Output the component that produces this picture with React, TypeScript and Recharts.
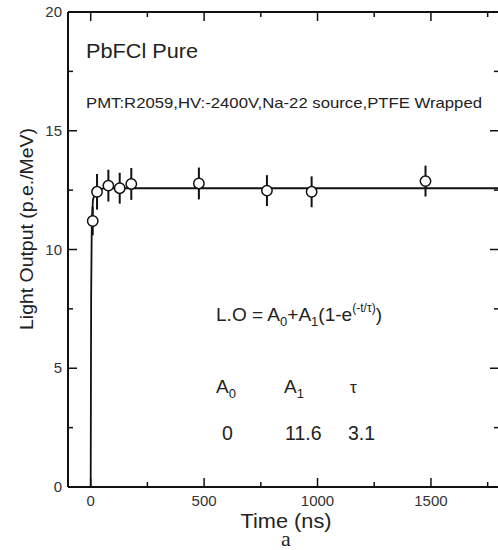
import React from 'react';
import { ComposedChart, Scatter, XAxis, YAxis, ErrorBar } from 'recharts';

const times = [9, 28, 78, 128, 179, 477, 777, 974, 1476];
const lightOutput = [11.2, 12.43, 12.69, 12.58, 12.76, 12.78, 12.48, 12.43, 12.88];
const errors = [0.6, 0.75, 0.67, 0.65, 0.67, 0.67, 0.65, 0.65, 0.65];

const fitTimes = [0, 2, 5, 10, 25, 60, 1800];
const fitValues = [0, 8, 11.2, 12.1, 12.5, 12.58, 12.58];

const xTicks = [0, 250, 500, 750, 1000, 1250, 1500, 1750];
const xLabelTicks = [0, 500, 1000, 1500];
const yTicks = [0, 2.5, 5, 7.5, 10, 12.5, 15, 17.5, 20];
const yLabelTicks = [0, 5, 10, 15, 20];

const measured = times.map((t, i) => ({ t, v: lightOutput[i], err: errors[i] }));
const fit = fitTimes.map((t, i) => ({ t, v: fitValues[i] }));

const FONT = '"Liberation Sans", Arial, Helvetica, sans-serif';
const TXT = '#222';

const BottomTick = (p: any) => {
  const v = p.payload.value;
  const major = xLabelTicks.includes(v);
  return (
    <g>
      <line x1={p.x} x2={p.x} y1={p.y} y2={p.y - (major ? 9 : 5)} stroke="#111" strokeWidth={1.5} />
      {major && (
        <text x={p.x} y={p.y + 19} textAnchor="middle" fontSize={15} fontFamily={FONT} fill="#333">
          {v}
        </text>
      )}
    </g>
  );
};

const TopTick = (p: any) => {
  const v = p.payload.value;
  const major = xLabelTicks.includes(v);
  return <line x1={p.x} x2={p.x} y1={p.y} y2={p.y + (major ? 9 : 5)} stroke="#111" strokeWidth={1.5} />;
};

const LeftTick = (p: any) => {
  const v = p.payload.value;
  const major = yLabelTicks.includes(v);
  return (
    <g>
      <line x1={p.x} x2={p.x + (major ? 9 : 5)} y1={p.y} y2={p.y} stroke="#111" strokeWidth={1.5} />
      {major && (
        <text x={p.x - 6} y={p.y + 5} textAnchor="end" fontSize={15} fontFamily={FONT} fill="#333">
          {v}
        </text>
      )}
    </g>
  );
};

const RightTick = (p: any) => {
  const v = p.payload.value;
  const major = yLabelTicks.includes(v);
  return <line x1={p.x} x2={p.x - (major ? 9 : 5)} y1={p.y} y2={p.y} stroke="#111" strokeWidth={1.5} />;
};

const OpenCircle = (p: any) => (
  <circle cx={p.cx} cy={p.cy} r={5.2} fill="#fff" stroke="#111" strokeWidth={1.5} />
);
const NoDot = () => <g />;

export default function App() {
  return (
    <div style={{ position: 'absolute', left: 0, top: 0, width: 498, height: 550, overflow: 'hidden', background: '#fff' }}>
      <ComposedChart
        width={510}
        height={550}
        margin={{ top: 11, right: 10, bottom: 62, left: 0 }}
        style={{ overflow: 'visible' }}
      >
        <XAxis
          xAxisId="b"
          dataKey="t"
          type="number"
          domain={[-100, 1800]}
          ticks={xTicks}
          allowDataOverflow
          height={1}
          tickSize={0}
          tickMargin={0}
          axisLine={{ stroke: '#111', strokeWidth: 2 }}
          tickLine={false}
          tick={<BottomTick />}
          interval={0}
        />
        <XAxis
          xAxisId="t"
          orientation="top"
          type="number"
          dataKey="t"
          domain={[-100, 1800]}
          ticks={xTicks}
          allowDataOverflow
          height={1}
          tickSize={0}
          tickMargin={0}
          axisLine={{ stroke: '#111', strokeWidth: 2 }}
          tickLine={false}
          tick={<TopTick />}
          interval={0}
        />
        <YAxis
          yAxisId="l"
          type="number"
          domain={[0, 20]}
          ticks={yTicks}
          allowDataOverflow
          width={68}
          tickSize={0}
          tickMargin={0}
          axisLine={{ stroke: '#111', strokeWidth: 2 }}
          tickLine={false}
          tick={<LeftTick />}
          interval={0}
        />
        <YAxis
          yAxisId="r"
          orientation="right"
          type="number"
          domain={[0, 20]}
          ticks={yTicks}
          allowDataOverflow
          width={1}
          tickSize={0}
          tickMargin={0}
          axisLine={{ stroke: '#111', strokeWidth: 2 }}
          tickLine={false}
          tick={<RightTick />}
          interval={0}
        />
        <Scatter
          xAxisId="b"
          yAxisId="l"
          data={fit}
          dataKey="v"
          line={{ stroke: '#111', strokeWidth: 1.8 }}
          lineType="joint"
          shape={<NoDot />}
          isAnimationActive={false}
        />
        <Scatter
          xAxisId="b"
          yAxisId="l"
          data={measured}
          dataKey="v"
          shape={<OpenCircle />}
          isAnimationActive={false}
        >
          <ErrorBar dataKey="err" direction="y" width={0} stroke="#111" strokeWidth={2} isAnimationActive={false} />
        </Scatter>
      </ComposedChart>
      <svg width={498} height={550} style={{ position: 'absolute', left: 0, top: 0 }} fontFamily={FONT}>
        <text x={86} y={57.5} fontSize={19.5} fill={TXT} textLength={112} lengthAdjust="spacingAndGlyphs">
          PbFCl Pure
        </text>
        <text x={86} y={108} fontSize={14.5} fill={TXT} textLength={396} lengthAdjust="spacingAndGlyphs">
          PMT:R2059,HV:-2400V,Na-22 source,PTFE Wrapped
        </text>
        <text x={216} y={321} fontSize={19} fill={TXT} textLength={166} lengthAdjust="spacingAndGlyphs">
          L.O = A
          <tspan fontSize={13} dy={5}>0</tspan>
          <tspan dy={-5}>+A</tspan>
          <tspan fontSize={13} dy={5}>1</tspan>
          <tspan dy={-5}>(1-e</tspan>
          <tspan fontSize={12} dy={-9}>(-t/τ)</tspan>
          <tspan dy={9}>)</tspan>
        </text>
        <text x={216} y={393} fontSize={19} fill={TXT}>
          A<tspan fontSize={13} dy={5}>0</tspan>
        </text>
        <text x={284} y={393} fontSize={19} fill={TXT}>
          A<tspan fontSize={13} dy={5}>1</tspan>
        </text>
        <text x={350} y={393} fontSize={17} fill={TXT}>τ</text>
        <text x={222} y={440} fontSize={19.5} fill={TXT}>0</text>
        <text x={285} y={440} fontSize={19.5} fill={TXT}>11.6</text>
        <text x={348} y={440} fontSize={19.5} fill={TXT}>3.1</text>
        <text x={286} y={528} fontSize={21} fill={TXT} textAnchor="middle" textLength={91} lengthAdjust="spacingAndGlyphs">
          Time (ns)
        </text>
        <text x={286} y={546} fontSize={22} fill={TXT} textAnchor="middle" fontFamily='"Liberation Serif", "Times New Roman", serif'>
          a
        </text>
        <text
          transform="translate(33,229) rotate(-90)"
          x={0}
          y={0}
          fontSize={19}
          fill={TXT}
          textAnchor="middle"
          textLength={202}
          lengthAdjust="spacingAndGlyphs"
        >
          Light Output (p.e./MeV)
        </text>
      </svg>
    </div>
  );
}
